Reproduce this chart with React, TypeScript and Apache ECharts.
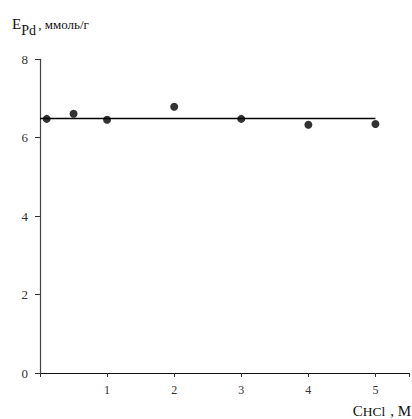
import React, { useEffect, useRef } from "react";
import * as echarts from "echarts";

const concentrations = [0.1, 0.5, 1, 2, 3, 4, 5];
const capacities = [6.48, 6.61, 6.46, 6.79, 6.48, 6.33, 6.35];
const fitX = [0, 5];
const fitY = [6.49, 6.49];
const yTicks = [0, 2, 4, 6, 8];
const xTicks = [1, 2, 3, 4, 5];

const SERIF = "Liberation Serif";

const txt = (text: string, x: number, y: number, size: number, align = "left") => ({
  type: "text",
  x,
  y,
  style: { text, fontFamily: SERIF, fontSize: size, fill: "#111", verticalAlign: "middle", align },
});

export default function App() {
  const ref = useRef<HTMLDivElement>(null);
  useEffect(() => {
    document.body.style.margin = "0";
    const chart = echarts.init(ref.current!, undefined, { renderer: "svg" });
    chart.setOption({
      animation: false,
      backgroundColor: "#fff",
      textStyle: { fontFamily: SERIF },
      grid: { left: 40, top: 59.3, width: 374, height: 313.7, containLabel: false },
      xAxis: {
        type: "value",
        min: 0,
        max: 5.5,
        interval: 1,
        splitLine: { show: false },
        axisLine: { show: true, onZero: false, lineStyle: { color: "#111", width: 1.2 } },
        axisTick: { show: true, length: 4, lineStyle: { color: "#333" } },
        axisLabel: {
          margin: 11,
          fontFamily: SERIF,
          fontSize: 12,
          color: "#333",
          formatter: (v: number) => (xTicks.includes(v) ? String(v) : ""),
        },
      },
      yAxis: {
        type: "value",
        min: yTicks[0],
        max: yTicks[yTicks.length - 1],
        interval: 2,
        splitLine: { show: false },
        axisLine: { show: true, lineStyle: { color: "#444", width: 1.2 } },
        axisTick: { show: true, length: 5, lineStyle: { color: "#333" } },
        axisLabel: { margin: 12, fontFamily: SERIF, fontSize: 13, color: "#333" },
      },
      series: [
        {
          type: "line",
          data: fitX.map((x, i) => [x, fitY[i]]),
          symbol: "none",
          lineStyle: { color: "#000", width: 1.5 },
          z: 2,
        },
        {
          type: "scatter",
          data: concentrations.map((x, i) => [x, capacities[i]]),
          symbol: "circle",
          symbolSize: 8,
          itemStyle: { color: "#000" },
          z: 3,
        },
      ],
      graphic: [
        txt("E", 12, 24.3, 15),
        txt("Pd", 21.3, 30.5, 14),
        txt(", ммоль/г", 38.3, 24.9, 13),
        txt("C", 352.7, 410.5, 15),
        txt("HCl", 362.8, 411.8, 13.5),
        txt(", M", 411, 410.5, 15, "right"),
      ],
    });
    return () => chart.dispose();
  }, []);
  return <div ref={ref} style={{ position: "absolute", left: 0, top: 0, width: 412, height: 419 }} />;
}
